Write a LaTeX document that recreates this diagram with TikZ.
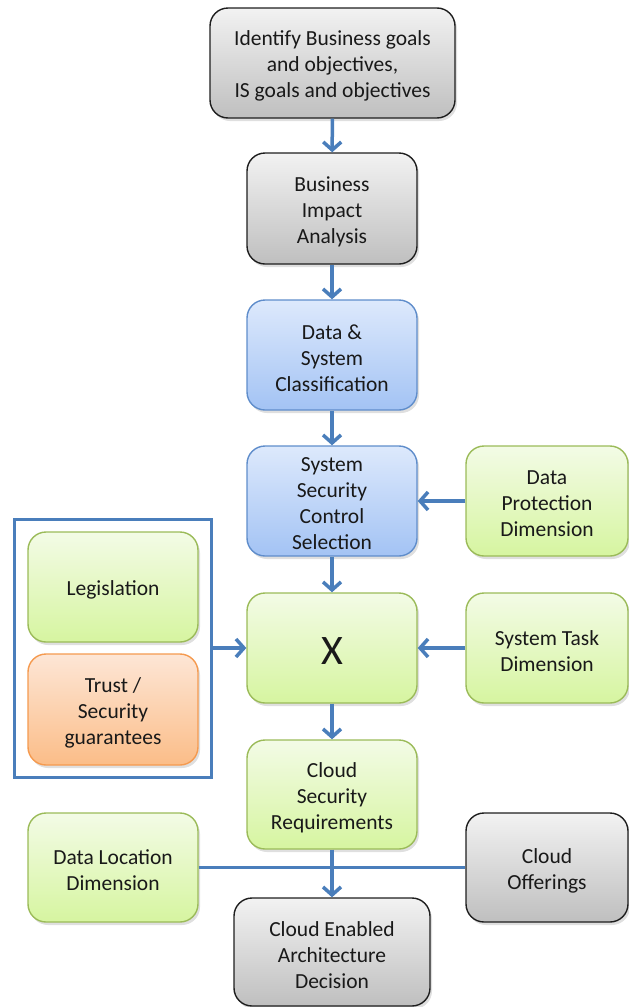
\documentclass[tikz,border=0pt]{standalone}
\usepackage{fontspec}
\setmainfont{Carlito}
\usetikzlibrary{arrows.meta,shadows}

\definecolor{flowblue}{HTML}{4A7EBB}
\definecolor{grayedge}{HTML}{1E1E1E}
\definecolor{graytop}{HTML}{F2F2F2}
\definecolor{graybot}{HTML}{BFBFBF}
\definecolor{blueedge}{HTML}{5F8DCB}
\definecolor{bluetop}{HTML}{DDE9FC}
\definecolor{bluebot}{HTML}{A3C3F4}
\definecolor{greenedge}{HTML}{9BBB59}
\definecolor{greentop}{HTML}{F3FBE6}
\definecolor{greenbot}{HTML}{D6F5A0}
\definecolor{orangeedge}{HTML}{F59A4F}
\definecolor{orangetop}{HTML}{FDE6D6}
\definecolor{orangebot}{HTML}{FBBD88}

\tikzset{
  box/.style={rounded corners=18pt, inner sep=0pt, line width=1.4pt,
    drop shadow={opacity=0.25, shadow xshift=2pt, shadow yshift=-3pt}},
  % caption of a box, set slightly below its centre
  boxtext/.style={align=center, inner sep=0pt, yshift=-3pt,
    font=\fontsize{21.5}{26}\selectfont, text=black!90},
  txt/.style={label={[boxtext]center:{#1}}},
  graybox/.style={box, draw=grayedge, top color=graytop, bottom color=graybot},
  bluebox/.style={box, draw=blueedge, top color=bluetop, bottom color=bluebot},
  greenbox/.style={box, draw=greenedge, top color=greentop, bottom color=greenbot},
  orangebox/.style={box, draw=orangeedge, top color=orangetop, bottom color=orangebot},
  sz/.style 2 args={minimum width=#1pt, minimum height=#2pt},
  flow/.style={draw=flowblue, line width=3.5pt,
    -{Straight Barb[length=8pt,width=18pt,line width=3.5pt]}},
  link/.style={draw=flowblue, line width=3.5pt},
  frame/.style={draw=flowblue, line width=3pt}
}

\begin{document}
\begin{tikzpicture}[x=1pt,y=-1pt]
\useasboundingbox (0,0) rectangle (629,1007);

% main column
\node[graybox, sz={245}{110},
  txt={Identify Business goals\\and objectives,\\IS goals and objectives}]
  (goals) at (332.5,63) {};
\node[graybox, sz={170}{111}, txt={Business\\Impact\\Analysis}] (bia) at (332,208.5) {};
\node[bluebox, sz={170}{110}, txt={Data \&\\System\\Classification}] (dsc) at (332,355) {};
\node[bluebox, sz={170}{110}, txt={System\\Security\\Control\\Selection}] (sscs) at (332,501) {};
\node[greenbox, sz={170}{110}, txt={\fontsize{42}{46}\selectfont X}] (x) at (332,648) {};
\node[greenbox, sz={170}{109}, txt={Cloud\\Security\\Requirements}] (csr) at (332,794.5) {};
\node[graybox, sz={196}{108}, txt={Cloud Enabled\\Architecture\\Decision}] (cead) at (332,952) {};

% right-hand dimensions
\node[greenbox, sz={162}{110}, txt={Data\\Protection\\Dimension}] (dpd) at (547,501) {};
\node[greenbox, sz={162}{110}, txt={System Task\\Dimension}] (std) at (547,648) {};
\node[graybox, sz={162}{109}, txt={Cloud\\Offerings}] (co) at (547,867.5) {};

% left-hand group
\node[greenbox, sz={170}{110}, txt={Legislation}] (leg) at (113,587) {};
\node[orangebox, sz={170}{111}, txt={Trust /\\Security\\guarantees}] (trust) at (113,709.5) {};
\node[frame, minimum width=197pt, minimum height=258pt, inner sep=0pt] (grp) at (112.5,648) {};

\node[greenbox, sz={170}{109}, txt={Data Location\\Dimension}] (dld) at (113,867.5) {};

% connectors
\draw[flow] (goals) -- (bia);
\draw[flow] (bia) -- (dsc);
\draw[flow] (dsc) -- (sscs);
\draw[flow] (sscs) -- (x);
\draw[flow] (x) -- (csr);
\draw[flow] (dpd) -- (sscs);
\draw[flow] (std) -- (x);
\draw[flow] (grp) -- (x);
\draw[link] (dld) -- (co);
\draw[flow] (csr) -- (cead);
\end{tikzpicture}
\end{document}
